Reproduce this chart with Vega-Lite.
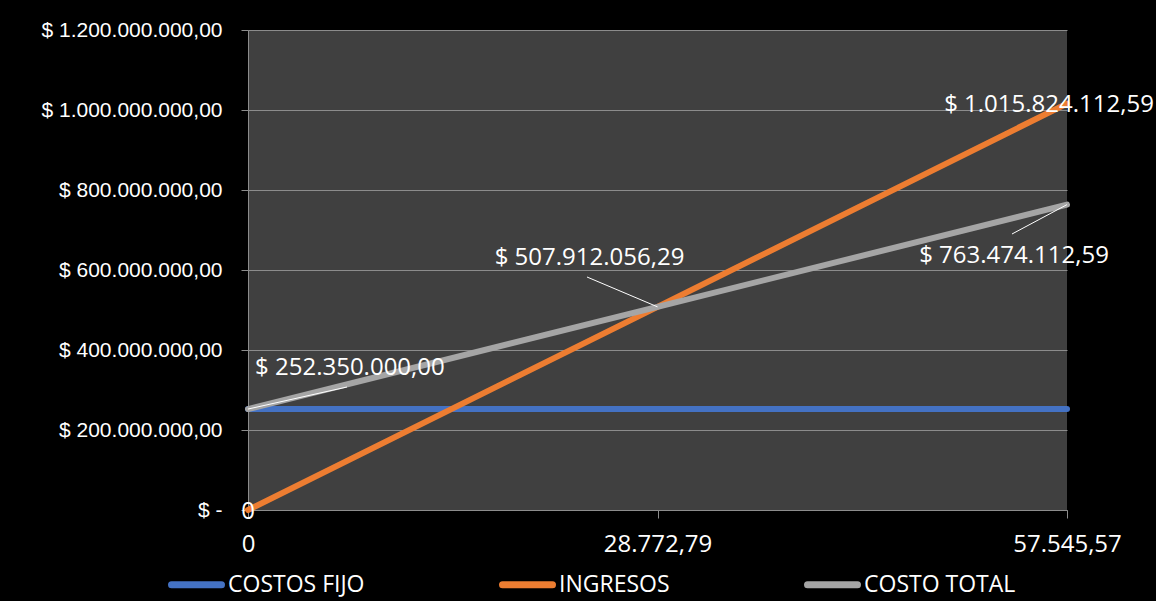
{
  "$schema": "https://vega.github.io/schema/vega-lite/v6.json",
  "width": 819,
  "height": 480,
  "autosize": {"type": "none"},
  "padding": {"left": 248, "top": 30, "right": 89, "bottom": 91},
  "background": "#000000",
  "config": {"view": {"fill": "#404040", "stroke": null}, "font": "Open Sans"},
  "datasets": {
    "series": [
      {"serie": "COSTOS FIJO", "unidades": 0, "valor": 252350000},
      {"serie": "COSTOS FIJO", "unidades": 28772.79, "valor": 252350000},
      {"serie": "COSTOS FIJO", "unidades": 57545.57, "valor": 252350000},
      {"serie": "INGRESOS", "unidades": 0, "valor": 0},
      {"serie": "INGRESOS", "unidades": 28772.79, "valor": 507912056.29},
      {"serie": "INGRESOS", "unidades": 57545.57, "valor": 1015824112.59},
      {"serie": "COSTO TOTAL", "unidades": 0, "valor": 252350000},
      {"serie": "COSTO TOTAL", "unidades": 28772.79, "valor": 507912056.29},
      {"serie": "COSTO TOTAL", "unidades": 57545.57, "valor": 763474112.59}
    ],
    "labels": [
      {"serie": "COSTO TOTAL", "unidades": 0, "valor": 252350000, "texto": "$ 252.350.000,00"},
      {"serie": "COSTO TOTAL", "unidades": 28772.79, "valor": 507912056.29, "texto": "$ 507.912.056,29"},
      {"serie": "INGRESOS", "unidades": 57545.57, "valor": 1015824112.59, "texto": "$ 1.015.824.112,59"},
      {"serie": "COSTO TOTAL", "unidades": 57545.57, "valor": 763474112.59, "texto": "$ 763.474.112,59"},
      {"serie": "INGRESOS", "unidades": 0, "valor": 0, "texto": "0"}
    ],
    "leaders": [
      {"unidades": 0, "valor": 252350000, "unidades2": 6956, "valor2": 307500000},
      {"unidades": 28772.79, "valor": 507912056.29, "unidades2": 23819, "valor2": 582500000},
      {"unidades": 57545.57, "valor": 763474112.59, "unidades2": 53681, "valor2": 690000000}
    ]
  },
  "layer": [
    {
      "data": {"name": "series"},
      "mark": {"type": "line", "strokeWidth": 6, "strokeCap": "round", "strokeJoin": "round"},
      "encoding": {
        "x": {
          "field": "unidades", "type": "quantitative",
          "scale": {"domain": [0, 57545.57], "nice": false, "zero": false},
          "axis": {
            "values": [0, 28772.79, 57545.57],
            "grid": false, "title": null,
            "domainColor": "#8c8c8c", "tickColor": "#8c8c8c", "tickSize": 8,
            "labelColor": "#ffffff", "labelFont": "Open Sans", "labelFontSize": 24,
            "labelPadding": 14, "labelFlush": false, "labelOverlap": false,
            "labelExpr": "datum.value == 0 ? '0' : (datum.value < 30000 ? '28.772,79' : '57.545,57')"
          }
        },
        "y": {
          "field": "valor", "type": "quantitative",
          "scale": {"domain": [0, 1200000000], "nice": false},
          "axis": {
            "values": [0, 200000000, 400000000, 600000000, 800000000, 1000000000, 1200000000],
            "grid": true, "gridColor": "#8c8c8c", "title": null,
            "domainColor": "#8c8c8c", "tickColor": "#8c8c8c", "tickSize": 7,
            "labelColor": "#ffffff", "labelFont": "Liberation Sans", "labelFontSize": 21,
            "labelPadding": 19, "labelOverlap": false, "labelLimit": 400,
            "labelExpr": "datum.value == 0 ? '$ -\u00a0\u00a0' : '$ ' + replace(format(datum.value / 1000000, ','), ',', '.') + '.000.000,00'"
          }
        },
        "color": {
          "field": "serie", "type": "nominal",
          "scale": {"domain": ["COSTOS FIJO", "INGRESOS", "COSTO TOTAL"], "range": ["#4472C4", "#ED7D31", "#A5A5A5"]},
          "legend": {
            "orient": "none", "legendX": -80, "legendY": 526,
            "direction": "horizontal", "title": null,
            "symbolType": "stroke", "symbolSize": 2500, "symbolStrokeWidth": 7,
            "labelColor": "#ffffff", "labelFont": "Open Sans", "labelFontSize": 23,
            "labelOffset": 3, "columnPadding": 123, "padding": 0, "labelLimit": 400,
            "encode": {"symbols": {"update": {"strokeCap": {"value": "round"}}}}
          }
        }
      }
    },
    {
      "data": {"name": "leaders"},
      "mark": {"type": "rule", "color": "#ffffff", "strokeWidth": 1},
      "encoding": {
        "x": {"field": "unidades", "type": "quantitative"},
        "y": {"field": "valor", "type": "quantitative"},
        "x2": {"field": "unidades2"},
        "y2": {"field": "valor2"}
      }
    },
    {
      "data": {"name": "labels"},
      "transform": [{"filter": "datum.serie == 'COSTO TOTAL' && datum.unidades == 0"}],
      "mark": {"type": "text", "align": "left", "baseline": "middle", "dx": 7, "dy": -41, "fontSize": 24, "font": "Open Sans", "color": "#ffffff"},
      "encoding": {
        "x": {"field": "unidades", "type": "quantitative"},
        "y": {"field": "valor", "type": "quantitative"},
        "text": {"field": "texto"}
      }
    },
    {
      "data": {"name": "labels"},
      "transform": [{"filter": "datum.serie == 'COSTO TOTAL' && datum.unidades > 20000 && datum.unidades < 30000"}],
      "mark": {"type": "text", "align": "center", "baseline": "middle", "dx": -68, "dy": -49, "fontSize": 24, "font": "Open Sans", "color": "#ffffff"},
      "encoding": {
        "x": {"field": "unidades", "type": "quantitative"},
        "y": {"field": "valor", "type": "quantitative"},
        "text": {"field": "texto"}
      }
    },
    {
      "data": {"name": "labels"},
      "transform": [{"filter": "datum.serie == 'INGRESOS' && datum.unidades > 50000"}],
      "mark": {"type": "text", "align": "center", "baseline": "middle", "dx": -18, "dy": 1, "fontSize": 24, "font": "Open Sans", "color": "#ffffff"},
      "encoding": {
        "x": {"field": "unidades", "type": "quantitative"},
        "y": {"field": "valor", "type": "quantitative"},
        "text": {"field": "texto"}
      }
    },
    {
      "data": {"name": "labels"},
      "transform": [{"filter": "datum.serie == 'COSTO TOTAL' && datum.unidades > 50000"}],
      "mark": {"type": "text", "align": "center", "baseline": "middle", "dx": -53, "dy": 51, "fontSize": 24, "font": "Open Sans", "color": "#ffffff"},
      "encoding": {
        "x": {"field": "unidades", "type": "quantitative"},
        "y": {"field": "valor", "type": "quantitative"},
        "text": {"field": "texto"}
      }
    },
    {
      "data": {"name": "labels"},
      "transform": [{"filter": "datum.serie == 'INGRESOS' && datum.unidades == 0"}],
      "mark": {"type": "text", "align": "center", "baseline": "middle", "dx": 0, "dy": 2, "fontSize": 24, "font": "Open Sans", "color": "#ffffff"},
      "encoding": {
        "x": {"field": "unidades", "type": "quantitative"},
        "y": {"field": "valor", "type": "quantitative"},
        "text": {"field": "texto"}
      }
    }
  ]
}
